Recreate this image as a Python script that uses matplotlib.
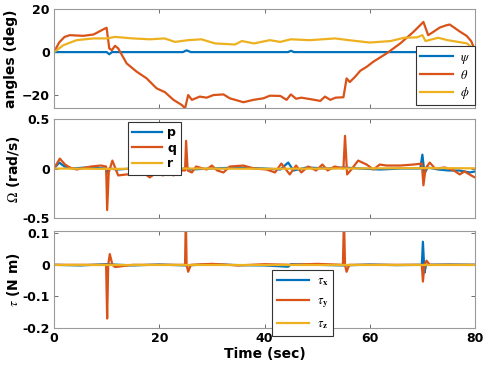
import matplotlib
matplotlib.use("Agg")
import matplotlib.pyplot as plt

plt.rcParams['font.family'] = ['DejaVu Sans']
plt.rcParams['mathtext.fontset'] = 'stix'

C_BLUE = '#0072BD'
C_RED = '#D95319'
C_YEL = '#EDB120'

# ---------------- data: angles (deg) ----------------
theta_t = [0, 1, 2, 3, 5.6, 7.5, 9.7, 10.0, 10.5, 11.0, 11.6, 12.2, 13.8, 15.7, 17.6, 19.5,
           21.1, 22.7, 24.3, 24.9, 25.5, 26.2, 27.7, 29.0, 30.3, 32.2, 33.4, 36.0, 37.9, 39.8,
           41.0, 43.0, 44.2, 45.0, 46.0, 47.0, 49.0, 50.6, 51.5, 52.5, 53.5, 55.0, 55.6, 56.2,
           57.2, 58.2, 59.4, 60.7, 63.2, 65.8, 68.3, 70.2, 71.1, 72.0, 73.3, 74.6, 75.2, 77.1,
           78.4, 79.3, 80]
theta = [0, 4.5, 7.0, 7.8, 7.5, 8.1, 10.9, 11.2, 1.7, 0.9, 2.9, 1.7, -5.2, -9.0, -12.1, -16.7,
         -18.5, -22.0, -24.4, -25.9, -19.8, -22.0, -20.5, -21.0, -19.8, -19.5, -21.3, -23.1, -22.0, -21.3,
         -20.1, -20.2, -22.0, -19.5, -21.5, -21.0, -21.8, -22.5, -20.5, -22.0, -21.0, -20.8, -12.1, -13.8,
         -11.4, -8.6, -6.8, -4.4, -0.6, 4.0, 9.3, 13.9, 7.8, 9.2, 11.3, 12.4, 12.7, 9.5,
         7.5, 5.0, 0.5]
phi_t = [0, 1.8, 4.3, 7.5, 10, 11.6, 15, 18.2, 21, 23, 25.5, 28, 30.6, 34.4, 35.7, 38, 41, 43,
         45, 48.6, 53.4, 56, 60, 64, 66.5, 69, 70, 70.6, 73, 74.8, 76.8, 78.5, 80]
phi = [0, 3.2, 5.5, 6.3, 6.3, 7.0, 6.3, 5.9, 6.3, 4.7, 5.5, 5.9, 4.0, 3.5, 5.1, 4.0, 5.5, 4.7,
       5.9, 5.5, 6.3, 5.5, 4.4, 5.1, 6.6, 6.8, 7.8, 5.1, 6.6, 5.5, 4.7, 4.0, 0.5]
psi_t = [0, 10, 10.5, 11, 20, 24.5, 25.2, 26, 35, 44.5, 45, 45.6, 55, 69.5, 70.2, 71, 75, 80]
psi = [0, 0, -1.0, 0, 0, 0, 0.8, 0, 0, 0, 0.6, 0, 0, 0, -0.8, 0, 0.2, 0]

# ---------------- data: body rates (rad/s) ----------------
p_t = [0, 1, 2, 3.5, 6, 9.8, 10.1, 10.5, 12, 15, 20, 24, 25, 26, 30, 35, 40, 43, 44.5, 45.5,
       48, 52, 55, 58, 62, 66, 69.6, 70.0, 70.4, 71, 73, 75, 77, 79, 80]
p = [0, 0.06, 0.02, 0.0, 0.01, 0.0, -0.05, 0.0, -0.01, 0.0, 0.01, -0.02, 0.01, -0.01, 0.0,
     0.01, 0.0, -0.01, 0.06, -0.02, 0.01, 0.0, 0.01, 0.0, -0.01, 0.0, 0.0, 0.14, -0.05, 0.01,
     -0.01, -0.02, -0.02, -0.04, -0.03]
q_t = [0, 1.1, 2.1, 3, 4.3, 7, 8.9, 9.9, 10.1, 10.4, 11.1, 11.6, 12.2, 13.8, 15, 16.9, 18.2,
       19.5, 20.7, 21.7, 22.7, 23.9, 24.9, 25.1, 25.4, 26.2, 27, 29, 30, 31, 32.2, 33.4, 36, 38,
       40.4, 42, 43.2, 44.8, 46, 47, 48.3, 49.8, 51, 52, 53.3, 55.0, 55.3, 55.7, 56.5, 57.8, 59.4,
       60.7, 61.9, 63.2, 65.8, 68.3, 69.9, 70.2, 70.6, 71.4, 72.4, 74.3, 76, 77.1, 78, 79.6, 80]
q = [0, 0.10, 0.04, 0.01, -0.01, 0.02, 0.03, 0.02, -0.42, -0.04, 0.08, 0.01, -0.07, -0.06,
     -0.06, -0.04, -0.09, -0.04, -0.07, -0.03, -0.07, -0.02, -0.02, 0.28, -0.02, -0.04, 0.02,
     -0.01, 0.03, -0.02, -0.04, 0.02, 0.03, 0.0, -0.01, -0.04, 0.05, -0.06, 0.03, -0.04, 0.02,
     -0.02, 0.04, -0.02, 0.02, 0.0, 0.33, -0.06, -0.01, 0.08, 0.04, -0.01, 0.04, 0.03, 0.03,
     0.04, 0.05, -0.17, 0.0, 0.06, 0.0, 0.01, -0.02, -0.06, -0.03, -0.08, -0.09]
r_t = [0, 10, 25, 40, 55, 70, 80]
r = [0, -0.004, 0.0, -0.003, 0.0, 0.004, 0.002]

# ---------------- data: torques (N m) ----------------
taux_t = [0, 5, 10, 15, 20, 25, 30, 35, 40, 44.5, 45, 50, 55, 60, 65, 69.9, 70.1, 70.4, 70.7,
          75, 80]
taux = [0, -0.002, 0.002, -0.002, 0.001, -0.002, 0.002, -0.001, -0.002, -0.006, 0.002, 0.0,
        -0.002, 0.001, -0.001, 0.0, 0.073, -0.025, 0.0, 0.001, 0]
tauy_t = [0, 5, 9.9, 10.1, 10.3, 10.6, 11.1, 11.6, 15, 20, 24.9, 25.05, 25.2, 25.5, 26, 30,
          35, 40, 45, 50, 54.9, 55.1, 55.3, 55.6, 56.1, 60, 65, 69.9, 70.1, 70.4, 70.8, 71.4,
          75, 80]
tauy = [0, 0.0, 0.0, -0.17, 0.0, 0.034, 0.0, -0.007, 0.0, 0.0, 0.0, 0.15, 0.0, -0.022, 0.0,
        0.003, -0.002, 0.002, 0.0, 0.003, 0.0, 0.15, 0.0, -0.022, 0.0, 0.0, 0.0, 0.0, -0.053,
        0.0, 0.013, 0.0, 0.0, 0.0]
tauz_t = [0, 20, 40, 60, 80]
tauz = [0, 0.0, 0.0, 0.0, 0]

xticks = [0, 20, 40, 60, 80]

fig = plt.figure(figsize=(4.86, 3.65), dpi=100)
W, H = 486.0, 365.0
L, R = 54.0, 475.0


def mkax(top, bot):
    return fig.add_axes([L / W, 1 - bot / H, (R - L) / W, (bot - top) / H])


ax1 = mkax(8.7, 108.3)
ax2 = mkax(119.0, 218.0)
ax3 = mkax(230.7, 328.0)

lw = 1.6
ax1.plot(psi_t, psi, color=C_BLUE, lw=lw, label=r'$\psi$')
ax1.plot(theta_t, theta, color=C_RED, lw=lw, label=r'$\theta$')
ax1.plot(phi_t, phi, color=C_YEL, lw=lw, label=r'$\phi$')
ax1.set_ylim(-25.9, 20)
ax1.set_yticks([-20, 0, 20])
ax1.set_ylabel('angles (deg)', fontsize=10, fontweight='bold', labelpad=3)

ax2.plot(p_t, p, color=C_BLUE, lw=lw, label='p')
ax2.plot(q_t, q, color=C_RED, lw=lw, label='q')
ax2.plot(r_t, r, color=C_YEL, lw=lw, label='r')
ax2.set_ylim(-0.5, 0.5)
ax2.set_yticks([-0.5, 0, 0.5])
ax2.set_yticklabels(['-0.5', '0', '0.5'])
ax2.set_ylabel(r'$\Omega$ (rad/s)', fontsize=10, fontweight='bold', labelpad=0)

ax3.plot(taux_t, taux, color=C_BLUE, lw=lw, label=r'$\tau_\mathbf{x}$')
ax3.plot(tauy_t, tauy, color=C_RED, lw=lw, label=r'$\tau_\mathbf{y}$')
ax3.plot(tauz_t, tauz, color=C_YEL, lw=lw, label=r'$\tau_\mathbf{z}$')
ax3.set_ylim(-0.2, 0.108)
ax3.set_yticks([-0.2, -0.1, 0, 0.1])
ax3.set_yticklabels(['-0.2', '-0.1', '0', '0.1'])
ax3.set_ylabel(r'$\tau$ (N m)', fontsize=10, fontweight='bold', labelpad=0)
ax3.set_xlabel('Time (sec)', fontsize=10, fontweight='bold', labelpad=1)

for ax in (ax1, ax2, ax3):
    ax.set_xlim(0, 80)
    ax.set_xticks(xticks)
    ax.tick_params(direction='in', top=True, right=True, length=3, width=0.6,
                   color='#555555', labelsize=9, pad=3)
    for s in ax.spines.values():
        s.set_color('#9a9a9a')
        s.set_linewidth(0.8)
    for lab in ax.get_yticklabels() + ax.get_xticklabels():
        lab.set_fontweight('bold')
ax1.tick_params(labelbottom=False)
ax2.tick_params(labelbottom=False)

legkw = dict(fontsize=9, fancybox=False, framealpha=1, edgecolor='#333333',
             handlelength=2.6, handletextpad=0.6, borderaxespad=0, borderpad=0.35)
lg1 = ax1.legend(loc='lower right', bbox_to_anchor=(1.0, 0.03), labelspacing=0.25, **legkw)
lg2 = ax2.legend(loc='upper left', bbox_to_anchor=(0.176, 0.97), labelspacing=0.2,
                 **dict(legkw, handlelength=2.4, handletextpad=0.4))
lg3 = ax3.legend(loc='upper left', bbox_to_anchor=(0.519, 0.60), labelspacing=0.55, **legkw)
for lg in (lg1, lg2, lg3):
    lg.get_frame().set_linewidth(0.8)
    for t in lg.get_texts():
        t.set_fontweight('bold')

fig.savefig('out.png', dpi=100)
